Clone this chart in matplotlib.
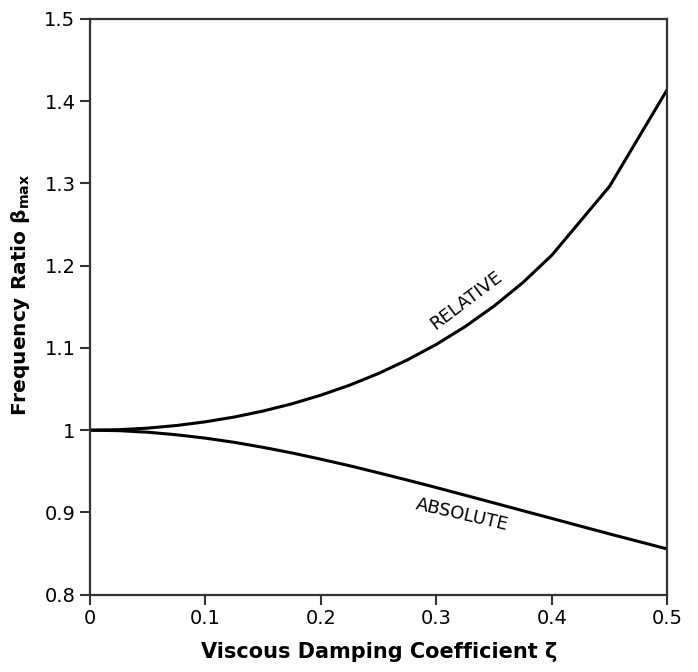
import matplotlib
matplotlib.use("Agg")
import matplotlib.pyplot as plt
from matplotlib.ticker import FuncFormatter

plt.rcParams['font.family'] = ['DejaVu Sans']

# damping coefficient and frequency ratios
zeta = [0.0, 0.025, 0.05, 0.075, 0.1, 0.125, 0.15, 0.175, 0.2, 0.225, 0.25,
        0.275, 0.3, 0.325, 0.35, 0.375, 0.4, 0.45, 0.5]
beta_relative = [1.0, 1.0006, 1.0025, 1.0057, 1.0102, 1.016, 1.0233, 1.0321, 1.0426,
                 1.0548, 1.069, 1.0855, 1.1043, 1.126, 1.1509, 1.1795, 1.2127,
                 1.2964, 1.4142]
beta_absolute = [1.0, 0.9994, 0.9975, 0.9944, 0.9903, 0.9852, 0.9791, 0.9723, 0.9647,
                 0.9567, 0.9481, 0.9393, 0.9302, 0.9209, 0.9115, 0.9021, 0.8927,
                 0.8739, 0.8556]

x_ticks = [0, 0.1, 0.2, 0.3, 0.4, 0.5]
y_ticks = [0.8, 0.9, 1.0, 1.1, 1.2, 1.3, 1.4, 1.5]

fig = plt.figure(figsize=(6.98, 6.72), dpi=100)
ax = fig.add_axes([0.129, 0.115, 0.827, 0.857])

ax.plot(zeta, beta_relative, color='black', lw=2.2, solid_joinstyle='round')
ax.plot(zeta, beta_absolute, color='black', lw=2.2, solid_joinstyle='round')

ax.text(0.326, 1.158, 'RELATIVE', rotation=37, ha='center', va='center', fontsize=13)
ax.text(0.322, 0.897, 'ABSOLUTE', rotation=-13, ha='center', va='center', fontsize=13)

ax.set_xlim(0, 0.5)
ax.set_ylim(0.8, 1.5)
ax.set_xticks(x_ticks)
ax.set_yticks(y_ticks)
fmt = FuncFormatter(lambda v, p: '%g' % round(v, 2))
ax.xaxis.set_major_formatter(fmt)
ax.yaxis.set_major_formatter(fmt)
ax.tick_params(direction='out', length=7, width=1.5, labelsize=14, color='#333333')

for s in ax.spines.values():
    s.set_linewidth(1.6)
    s.set_color('#333333')

ax.set_xlabel('Viscous Damping Coefficient ζ', fontsize=15, fontweight='bold', labelpad=10)
ax.set_ylabel(r'Frequency Ratio β$_{\mathregular{max}}$', fontsize=14.5, fontweight='bold')
ax.yaxis.set_label_coords(-0.1, 0.52)

fig.savefig('out.png', dpi=100)
